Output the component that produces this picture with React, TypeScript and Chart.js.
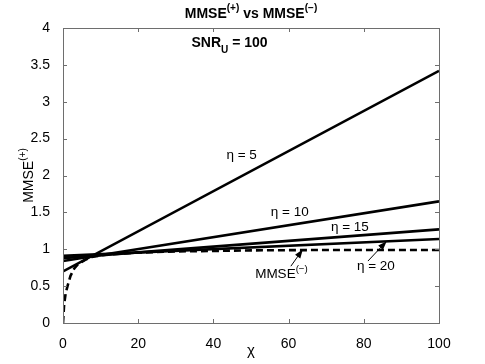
import React, { useEffect, useRef } from "react";
import { Chart, registerables } from "chart.js";

Chart.register(...registerables);

// ---- data ----
const chiEnds = [0, 100];
const eta5 = [0.7, 3.42];
const eta10 = [0.84, 1.65];
const eta15 = [0.88, 1.27];
const eta20 = [0.91, 1.14];
const minusChi = [0, 0.3, 0.7, 1.2, 2, 3, 4, 6, 8, 12, 20, 30, 50, 70, 100];
const minusVal = [0, 0.25, 0.4, 0.5, 0.64, 0.74, 0.8, 0.86, 0.9, 0.93, 0.955, 0.97, 0.985, 0.99, 0.99];
const xTicks = [0, 20, 40, 60, 80, 100];
const yTicks = [0, 0.5, 1, 1.5, 2, 2.5, 3, 3.5, 4];

const FONT = "'Liberation Sans', Arial, Helvetica, sans-serif";

type Part = { t: string; sup?: boolean; sub?: boolean };

function richWidth(ctx: CanvasRenderingContext2D, parts: Part[], size: number, bold: boolean) {
  let w = 0;
  for (const p of parts) {
    const s = p.sup || p.sub ? size * 0.72 : size;
    ctx.font = `${bold ? "bold " : ""}${s}px ${FONT}`;
    w += ctx.measureText(p.t).width;
  }
  return w;
}

function drawRich(
  ctx: CanvasRenderingContext2D,
  parts: Part[],
  cx: number,
  cy: number,
  size: number,
  bold: boolean
) {
  const w = richWidth(ctx, parts, size, bold);
  let x = cx - w / 2;
  ctx.textBaseline = "middle";
  ctx.textAlign = "left";
  ctx.fillStyle = "#000";
  for (const p of parts) {
    const s = p.sup || p.sub ? size * 0.72 : size;
    ctx.font = `${bold ? "bold " : ""}${s}px ${FONT}`;
    const dy = p.sup ? -size * 0.4 : p.sub ? size * 0.5 : 0;
    ctx.fillText(p.t, x, cy + dy);
    x += ctx.measureText(p.t).width;
  }
}

function arrow(ctx: CanvasRenderingContext2D, x1: number, y1: number, x2: number, y2: number) {
  const ang = Math.atan2(y2 - y1, x2 - x1);
  const L = 9;
  const W = 3.2;
  ctx.strokeStyle = "#000";
  ctx.lineWidth = 1;
  ctx.beginPath();
  ctx.moveTo(x1, y1);
  ctx.lineTo(x2 - Math.cos(ang) * L * 0.6, y2 - Math.sin(ang) * L * 0.6);
  ctx.stroke();
  ctx.fillStyle = "#000";
  ctx.beginPath();
  ctx.moveTo(x2, y2);
  ctx.lineTo(x2 - Math.cos(ang) * L - Math.sin(ang) * W, y2 - Math.sin(ang) * L + Math.cos(ang) * W);
  ctx.lineTo(x2 - Math.cos(ang) * L + Math.sin(ang) * W, y2 - Math.sin(ang) * L - Math.cos(ang) * W);
  ctx.closePath();
  ctx.fill();
}

const decor = {
  id: "decor",
  afterDraw(chart: any) {
    const ctx: CanvasRenderingContext2D = chart.ctx;
    const a = chart.chartArea;
    const xs = chart.scales.x;
    const ys = chart.scales.y;
    const px = (v: number) => xs.getPixelForValue(v);
    const py = (v: number) => ys.getPixelForValue(v);
    ctx.save();
    // box
    ctx.strokeStyle = "#6e6e6e";
    ctx.lineWidth = 1;
    ctx.strokeRect(Math.round(a.left) + 0.5, Math.round(a.top) + 0.5, Math.round(a.right - a.left), Math.round(a.bottom - a.top));
    // inward ticks
    ctx.beginPath();
    for (const t of xTicks) {
      const x = Math.round(px(t)) + 0.5;
      ctx.moveTo(x, a.bottom);
      ctx.lineTo(x, a.bottom - 4);
      ctx.moveTo(x, a.top);
      ctx.lineTo(x, a.top + 4);
    }
    for (const t of yTicks) {
      const y = Math.round(py(t)) + 0.5;
      ctx.moveTo(a.left, y);
      ctx.lineTo(a.left + 4, y);
      ctx.moveTo(a.right, y);
      ctx.lineTo(a.right - 4, y);
    }
    ctx.stroke();

    // title
    drawRich(ctx, [{ t: "MMSE" }, { t: "(+)", sup: true }, { t: " vs MMSE" }, { t: "(\u2212)", sup: true }], (a.left + a.right) / 2, 14, 14, true);
    // x title
    drawRich(ctx, [{ t: "\u03c7" }], (a.left + a.right) / 2, 351, 15, false);
    // y title
    ctx.save();
    ctx.translate(29, (a.top + a.bottom) / 2);
    ctx.rotate(-Math.PI / 2);
    drawRich(ctx, [{ t: "MMSE" }, { t: "(+)", sup: true }], 0, 0, 14, false);
    ctx.restore();

    // annotations
    drawRich(ctx, [{ t: "SNR" }, { t: "U", sub: true }, { t: " = 100" }], px(44.3), py(3.8), 14, true);
    drawRich(ctx, [{ t: "\u03b7 = 5" }], px(47.5), py(2.28), 13.5, false);
    drawRich(ctx, [{ t: "\u03b7 = 10" }], px(60.3), py(1.5), 13.5, false);
    drawRich(ctx, [{ t: "\u03b7 = 15" }], px(76.3), py(1.3), 13.5, false);
    drawRich(ctx, [{ t: "\u03b7 = 20" }], px(83.2), py(0.77), 13.5, false);
    drawRich(ctx, [{ t: "MMSE" }, { t: "(\u2212)", sup: true }], px(58.1), py(0.66), 13.5, false);
    arrow(ctx, px(60.6), py(0.77), px(63.8), py(1.0));
    arrow(ctx, px(81.1), py(0.84), px(86.1), py(1.11));
    ctx.restore();
  },
};

const line = (ys: number[], xs: number[], dash: number[] = []) => ({
  data: xs.map((x, i) => ({ x, y: ys[i] })),
  borderColor: "#000",
  backgroundColor: "#000",
  borderWidth: 2.6,
  borderDash: dash,
  pointRadius: 0,
  tension: 0,
  fill: false,
});

export default function App() {
  const ref = useRef<HTMLCanvasElement>(null);
  useEffect(() => {
    if (!ref.current) return;
    const chart = new Chart(ref.current, {
      type: "line",
      data: {
        datasets: [
          line(eta5, chiEnds),
          line(eta10, chiEnds),
          line(eta15, chiEnds),
          line(eta20, chiEnds),
          line(minusVal, minusChi, [7, 4]),
        ] as any,
      },
      options: {
        animation: false,
        responsive: false,
        devicePixelRatio: 1,
        layout: { padding: { top: 28, right: 46, left: 0, bottom: 0 } },
        plugins: { legend: { display: false }, tooltip: { enabled: false }, title: { display: false } },
        scales: {
          x: {
            type: "linear",
            min: 0,
            max: 100,
            afterBuildTicks: (s: any) => {
              s.ticks = xTicks.map((v) => ({ value: v }));
            },
            ticks: { color: "#000", font: { family: FONT, size: 14 }, padding: 5, maxRotation: 0 },
            grid: { display: false },
            border: { display: false },
            afterFit: (s: any) => {
              s.height = 41;
            },
          },
          y: {
            type: "linear",
            min: 0,
            max: 4,
            afterBuildTicks: (s: any) => {
              s.ticks = yTicks.map((v) => ({ value: v }));
            },
            ticks: { color: "#000", font: { family: FONT, size: 14 }, padding: 5, callback: (v: any) => String(v) },
            grid: { display: false },
            border: { display: false },
            afterFit: (s: any) => {
              s.width = 63;
            },
          },
        },
      } as any,
      plugins: [decor],
    });
    return () => chart.destroy();
  }, []);
  return (
    <div style={{ position: "absolute", left: 0, top: 0, width: 485, height: 364, background: "#fff" }}>
      <canvas ref={ref} width={485} height={364} />
    </div>
  );
}
